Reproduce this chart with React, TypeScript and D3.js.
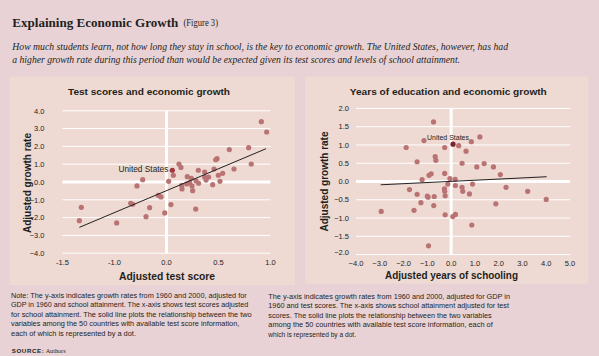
import React from "react";
import * as d3 from "d3";

// ---------- Data ----------
// Left chart: adjusted test score (tick-position units) vs adjusted growth rate
const testX = [-0.838, -0.819, -0.479, -0.344, -0.325, -0.284, -0.229, -0.197, -0.162, -0.079, -0.053, -0.017, 0.021, 0.043, 0.066, 0.12, 0.139, 0.146, 0.149, 0.2, 0.194, 0.239, 0.245, 0.252, 0.223, 0.284, 0.281, 0.306, 0.309, 0.367, 0.367, 0.38, 0.405, 0.444, 0.457, 0.473, 0.486, 0.498, 0.514, 0.54, 0.604, 0.649, 0.79, 0.815, 0.912, 0.963];
const testY = [-2.17, -1.42, -2.3, -1.2, -1.25, -0.22, 0.13, -1.95, -1.44, -0.75, -0.84, -1.74, 0.04, -1.27, 0.38, 1.01, 0.82, -0.19, -0.39, 0.3, -0.11, 0.21, -0.22, -0.49, -0.04, 0.06, -1.52, 0.66, -0.07, 0.56, 0.28, 0.11, 0.28, -0.15, 0.73, 1.25, 1.31, 0.38, 0.04, 0.49, 1.82, 0.73, 1.93, 1.01, 3.39, 2.81];
const testUS = [0.056, 0.66];
const testFitX = [-0.838, 0.957];
const testFitY = [-2.55, 1.87];
const testTickVals = [-1, -0.5, 0, 0.5, 1];
const testTickLabels = ["-1.5", "-1.0", "0.0", "0.5", "1.0"];
const testYTicks = [4, 3, 2, 1, 0, -1, -2, -3, -4];

// Right chart: adjusted years of schooling vs adjusted growth rate
const eduX = [-2.94, -1.89, -1.75, -1.56, -1.43, -1.43, -1.27, -1.22, -1.14, -1.0, -0.97, -0.93, -0.84, -0.95, -0.74, -0.71, -0.73, -0.67, -0.64, -0.27, -0.27, -0.28, -0.27, -0.25, -0.25, -0.14, -0.05, 0.07, 0.18, 0.18, 0.17, 0.32, 0.46, 0.46, 0.49, 0.63, 0.77, 0.85, 0.87, 0.9, 1.08, 1.21, 1.39, 1.78, 1.88, 2.07, 2.31, 3.22, 4.0];
const eduY = [-0.82, 0.93, -0.22, -0.79, 0.54, -0.35, -0.58, 0.05, 1.12, -0.4, -0.43, 0.17, 0.21, -1.76, 1.63, -0.41, -0.66, 0.68, 0.58, 0.93, 0.22, -0.2, -0.27, -0.39, -0.91, -0.07, 0.08, -0.96, -0.9, -0.11, 0.06, 0.98, 0.5, -0.16, -0.27, 0.83, -0.34, 1.09, -1.19, -0.07, 0.4, 1.22, 0.49, 0.4, -0.61, 0.19, -0.16, -0.27, -0.49];
const eduUS = [0.08, 1.02];
const eduFitX = [-2.96, 4.02];
const eduFitY = [-0.09, 0.13];
const eduXTicks = [-4, -3, -2, -1, 0, 1, 2, 3, 4, 5];
const eduYTicks = [2, 1.5, 1, 0.5, 0, -0.5, -1, -1.5, -2];

const titleText = "Explaining Economic Growth";
const figText = "(Figure 3)";
const subtitleLines = [
  "How much students learn, not how long they stay in school, is the key to economic growth. The United States, however, has had",
  "a higher growth rate during this period than would be expected given its test scores and levels of school attainment.",
];
const leftNotes = [
  "Note: The y-axis indicates growth rates from 1960 and 2000, adjusted for",
  "GDP in 1960 and school attainment. The x-axis shows test scores adjusted",
  "for school attainment. The solid line plots the relationship between the two",
  "variables among the 50 countries with available test score information,",
  "each of which is represented by a dot.",
];
const leftNoteEnds = [246.7, 248.3, 251.7, 239.3, 136];
const rightNotes = [
  "The y-axis indicates growth rates from 1960 and 2000, adjusted for GDP in",
  "1960 and test scores. The x-axis shows school attainment adjusted for test",
  "scores. The solid line plots the relationship between the two variables",
  "among the 50 countries with available test score information, each of",
  "which is represented by a dot.",
];
const rightNoteEnds = [510, 509, 491.7, 492.7, 356];

// ---------- Styles ----------
const BG = "#e9d2d5";
const PANEL = "#eed9d3";
const DOT = "#b97373";
const TEXT = "#231f20";
const SANS = "'Liberation Sans', Arial, sans-serif";
const SERIF = "'Liberation Serif', 'Times New Roman', serif";

function fmt(v: number) {
  return d3.format(".1f")(v);
}

export default function App() {
  // Left scales
  const lx = d3.scaleLinear().domain([-1, 1]).range([62.5, 270.5]);
  const ly = d3.scaleLinear().domain([-4, 4]).range([253.2, 110.8]);
  // Right scales
  const rx = d3.scaleLinear().domain([-4, 5]).range([356, 570]);
  const ry = d3.scaleLinear().domain([-2, 2]).range([254.6, 108.4]);

  const lFit = d3.line<number>().x((d, i) => lx(testFitX[i])).y((d, i) => ly(testFitY[i]));
  const rFit = d3.line<number>().x((d, i) => rx(eduFitX[i])).y((d, i) => ry(eduFitY[i]));

  return (
    <svg width={599} height={356} style={{ position: "absolute", left: 0, top: 0, display: "block" }}>
      <rect x={0} y={0} width={599} height={356} fill={BG} />
      {/* header */}
      <text x={12.3} y={26.5} fontFamily={SERIF} fontWeight="bold" fontSize={13.5} fill={TEXT} textLength={166} lengthAdjust="spacingAndGlyphs">
        {titleText}
      </text>
      <text x={183.5} y={26} fontFamily={SERIF} fontSize={9.5} fill={TEXT} textLength={34.5} lengthAdjust="spacingAndGlyphs">
        {figText}
      </text>
      {subtitleLines.map((s, i) => (
        <text key={i} x={12.3} y={49.5 + i * 13.3} fontFamily={SERIF} fontStyle="italic" fontSize={11.3} fill={TEXT}
          textLength={i === 0 ? 495.7 : 447.7} lengthAdjust="spacingAndGlyphs">
          {s}
        </text>
      ))}

      {/* panels */}
      <rect x={10} y={76.7} width={285} height={208.3} fill={PANEL} />
      <rect x={305} y={76.7} width={283.3} height={207} fill={PANEL} />

      {/* ---------- Left chart ---------- */}
      <text x={149} y={95} textAnchor="middle" fontFamily={SANS} fontWeight="bold" fontSize={9.5} fill={TEXT} textLength={162} lengthAdjust="spacingAndGlyphs">
        Test scores and economic growth
      </text>
      {testYTicks.map((t) => (
        <g key={t}>
          <line x1={lx(-1)} x2={lx(1)} y1={ly(t)} y2={ly(t)} stroke="#ffffff" strokeWidth={t === 0 ? 3 : 1} />
          <text x={44.5} y={ly(t) + 2.7} textAnchor="end" fontFamily={SANS} fontSize={7.5} fill={TEXT}>{fmt(t)}</text>
        </g>
      ))}
      <line x1={lx(0)} x2={lx(0)} y1={ly(4)} y2={ly(-4)} stroke="#ffffff" strokeWidth={3} />
      {testTickVals.map((t, i) => (
        <text key={t} x={lx(t)} y={264.5} textAnchor="middle" fontFamily={SANS} fontSize={7.5} fill={TEXT}>{testTickLabels[i]}</text>
      ))}
      {testX.map((x, i) => (
        <circle key={i} cx={lx(x)} cy={ly(testY[i])} r={2.6} fill={DOT} />
      ))}
      <path d={lFit([0, 1]) || ""} stroke="#222" strokeWidth={1} fill="none" />
      <circle cx={lx(testUS[0])} cy={ly(testUS[1])} r={2.6} fill="#a33441" />
      <text x={lx(testUS[0]) - 4} y={ly(testUS[1]) + 2} textAnchor="end" fontFamily={SANS} fontSize={8.3} fill={TEXT}>United States</text>
      <text x={30.5} y={183} transform="rotate(-90 30.5 183)" textAnchor="middle" fontFamily={SANS} fontWeight="bold" fontSize={10} fill={TEXT}>
        Adjusted growth rate
      </text>
      <text x={167} y={279.5} textAnchor="middle" fontFamily={SANS} fontWeight="bold" fontSize={10} fill={TEXT} textLength={96} lengthAdjust="spacingAndGlyphs">
        Adjusted test score
      </text>

      {/* ---------- Right chart ---------- */}
      <text x={448.3} y={95} textAnchor="middle" fontFamily={SANS} fontWeight="bold" fontSize={9.5} fill={TEXT} textLength={197} lengthAdjust="spacingAndGlyphs">
        Years of education and economic growth
      </text>
      {eduYTicks.map((t) => (
        <g key={t}>
          <line x1={rx(-4)} x2={rx(5)} y1={ry(t)} y2={ry(t)} stroke="#ffffff" strokeWidth={t === 0 ? 3 : 1} />
          <text x={349} y={ry(t) + 2.7 - (t === -2 ? 2.5 : 0)} textAnchor="end" fontFamily={SANS} fontSize={7.5} fill={TEXT}>{fmt(t)}</text>
        </g>
      ))}
      <line x1={rx(0)} x2={rx(0)} y1={ry(2)} y2={ry(-2)} stroke="#ffffff" strokeWidth={3} />
      {eduXTicks.map((t) => (
        <text key={t} x={rx(t)} y={265.5} textAnchor="middle" fontFamily={SANS} fontSize={7.5} fill={TEXT}>{fmt(t)}</text>
      ))}
      {eduX.map((x, i) => (
        <circle key={i} cx={rx(x)} cy={ry(eduY[i])} r={2.6} fill={DOT} />
      ))}
      <path d={rFit([0, 1]) || ""} stroke="#222" strokeWidth={1} fill="none" />
      <circle cx={rx(eduUS[0])} cy={ry(eduUS[1])} r={2.6} fill="#7a2632" />
      <text x={rx(eduUS[0]) - 5} y={ry(eduUS[1]) - 4} textAnchor="middle" fontFamily={SANS} fontSize={7} fill={TEXT}>United States</text>
      <text x={328} y={181.5} transform="rotate(-90 328 181.5)" textAnchor="middle" fontFamily={SANS} fontWeight="bold" fontSize={10} fill={TEXT}>
        Adjusted growth rate
      </text>
      <text x={451.5} y={278.5} textAnchor="middle" fontFamily={SANS} fontWeight="bold" fontSize={10} fill={TEXT} textLength={133} lengthAdjust="spacingAndGlyphs">
        Adjusted years of schooling
      </text>

      {/* ---------- Notes ---------- */}
      {leftNotes.map((s, i) => (
        <text key={i} x={11} y={297.5 + i * 9.6} fontFamily={SANS} fontSize={7.6} fill={TEXT}
          textLength={leftNoteEnds[i] - 11} lengthAdjust="spacingAndGlyphs">{s}</text>
      ))}
      {rightNotes.map((s, i) => (
        <text key={i} x={268.3} y={298.5 + i * 9.6} fontFamily={SANS} fontSize={7.6} fill={TEXT}
          textLength={rightNoteEnds[i] - 268.3} lengthAdjust="spacingAndGlyphs">{s}</text>
      ))}
      <text x={11.7} y={353} fontFamily={SANS} fontSize={6.2} fill={TEXT}>
        <tspan fontWeight="bold" letterSpacing={0.6}>SOURCE:</tspan>
        <tspan fontFamily={SERIF} fontSize={6.2}> Authors</tspan>
      </text>
    </svg>
  );
}
